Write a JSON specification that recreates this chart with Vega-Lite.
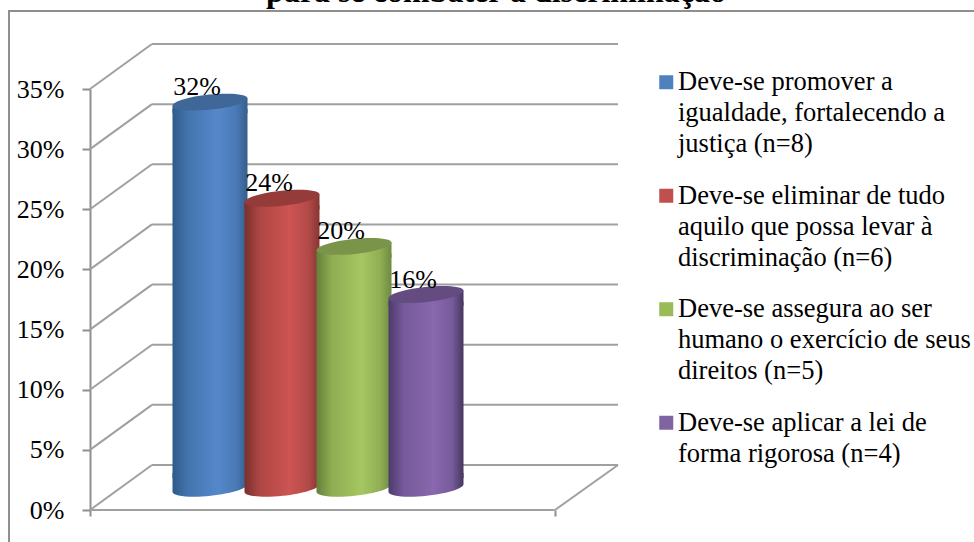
{
  "$schema": "https://vega.github.io/schema/vega-lite/v6.json",
  "width": 966,
  "height": 533,
  "autosize": {"type": "none"},
  "padding": {"left": 9, "top": 11, "right": 0, "bottom": 0},
  "background": "white",
  "view": {"stroke": "#8f8f8f", "strokeWidth": 2, "fill": "white"},
  "title": {
    "text": "para se combater a discriminação",
    "font": "Liberation Serif",
    "fontSize": 32,
    "fontWeight": "bold",
    "color": "#000000",
    "frame": "group",
    "anchor": "middle",
    "baseline": "alphabetic",
    "offset": -23,
    "dx": 4
  },
  "datasets": {
    "respostas": [
      {"categoria": "Deve-se promover a\nigualdade, fortalecendo a\njustiça (n=8)", "ordem": 1, "pct": 32},
      {"categoria": "Deve-se eliminar de tudo\naquilo que possa levar à\ndiscriminação (n=6)", "ordem": 2, "pct": 24},
      {"categoria": "Deve-se assegura ao ser\nhumano o exercício de seus\ndireitos (n=5)", "ordem": 3, "pct": 20},
      {"categoria": "Deve-se aplicar a lei de\nforma rigorosa (n=4)", "ordem": 4, "pct": 16}
    ],
    "grelha": [
      {"nivel": 0}, {"nivel": 5}, {"nivel": 10}, {"nivel": 15},
      {"nivel": 20}, {"nivel": 25}, {"nivel": 30}, {"nivel": 35}
    ]
  },
  "params": [
    {"name": "corpoAzul", "expr": "{gradient:'linear',x1:0,y1:0,x2:1,y2:0,stops:[{offset:0,color:'#2f5a89'},{offset:0.2,color:'#4474ad'},{offset:0.6,color:'#5588cb'},{offset:0.85,color:'#4a79b5'},{offset:1,color:'#355e8d'}]}"},
    {"name": "corpoVermelho", "expr": "{gradient:'linear',x1:0,y1:0,x2:1,y2:0,stops:[{offset:0,color:'#7a302e'},{offset:0.2,color:'#ae4644'},{offset:0.6,color:'#cd5452'},{offset:0.85,color:'#b34a48'},{offset:1,color:'#863634'}]}"},
    {"name": "corpoVerde", "expr": "{gradient:'linear',x1:0,y1:0,x2:1,y2:0,stops:[{offset:0,color:'#64803a'},{offset:0.2,color:'#8fac52'},{offset:0.6,color:'#a5c761'},{offset:0.85,color:'#90ae55'},{offset:1,color:'#6e8a40'}]}"},
    {"name": "corpoRoxo", "expr": "{gradient:'linear',x1:0,y1:0,x2:1,y2:0,stops:[{offset:0,color:'#4d3b6b'},{offset:0.2,color:'#75599a'},{offset:0.6,color:'#8968ae'},{offset:0.85,color:'#775b9b'},{offset:1,color:'#463660'}]}"}
  ],
  "resolve": {"scale": {"color": "independent"}, "legend": {"color": "independent"}},
  "layer": [
    {
      "description": "Parede do fundo: linhas horizontais de cada nível",
      "data": {"name": "grelha"},
      "mark": {"type": "rule", "color": "#a0a0a0", "strokeWidth": 2, "yOffset": -45},
      "encoding": {
        "x": {
          "datum": 0.194, "type": "quantitative",
          "scale": {"domain": [-1.7917, 11.625], "range": [0, 966], "nice": false, "zero": false, "padding": 0},
          "axis": {"orient": "bottom", "offset": -34, "values": [-0.667, 5.79], "labels": false, "domain": false, "grid": false, "ticks": true, "tickSize": 6, "tickColor": "#8f8f8f", "tickWidth": 2, "title": null}
        },
        "x2": {"datum": 6.667},
        "y": {
          "field": "nivel", "type": "quantitative",
          "scale": {"domain": [0, 35], "range": [499, 78], "nice": false},
          "axis": {
            "orient": "left", "offset": -81, "values": [0, 5, 10, 15, 20, 25, 30, 35], "labelExpr": "datum.value + '%'",
            "title": null, "grid": false, "labelFont": "Liberation Serif", "labelFontSize": 26, "labelColor": "#000000", "labelPadding": 18,
            "domainColor": "#8f8f8f", "domainWidth": 2, "tickColor": "#8f8f8f", "tickWidth": 2, "tickSize": 8
          }
        }
      }
    },
    {
      "description": "Parede lateral: diagonais da frente para o fundo",
      "data": {"name": "grelha"},
      "mark": {"type": "rule", "color": "#a0a0a0", "strokeWidth": 2, "y2Offset": -45},
      "encoding": {
        "x": {"datum": -0.667, "type": "quantitative"},
        "x2": {"datum": 0.194},
        "y": {"field": "nivel", "type": "quantitative"},
        "y2": {"field": "nivel"}
      }
    },
    {
      "description": "Borda da frente do piso",
      "data": {"name": "grelha"},
      "transform": [{"filter": "datum.nivel === 0"}],
      "mark": {"type": "rule", "color": "#a0a0a0", "strokeWidth": 2},
      "encoding": {
        "x": {"datum": -0.667, "type": "quantitative"},
        "x2": {"datum": 5.79},
        "y": {"field": "nivel", "type": "quantitative"}
      }
    },
    {
      "description": "Borda direita do piso",
      "data": {"name": "grelha"},
      "transform": [{"filter": "datum.nivel === 0"}],
      "mark": {"type": "rule", "color": "#a0a0a0", "strokeWidth": 2, "y2Offset": -45},
      "encoding": {
        "x": {"datum": 5.79, "type": "quantitative"},
        "x2": {"datum": 6.667},
        "y": {"field": "nivel", "type": "quantitative"},
        "y2": {"field": "nivel"}
      }
    },
    {
      "description": "Corpo dos cilindros",
      "data": {"name": "respostas"},
      "mark": {"type": "bar", "orient": "vertical", "size": 75, "yOffset": -16, "y2Offset": -32, "opacity": 1},
      "encoding": {
        "x": {"field": "ordem", "type": "quantitative"},
        "y": {"field": "pct", "type": "quantitative"},
        "y2": {"datum": 0},
        "fill": {
          "field": "categoria", "type": "nominal", "legend": null, "sort": null,
          "scale": {"range": [{"signal": "corpoAzul"}, {"signal": "corpoVermelho"}, {"signal": "corpoVerde"}, {"signal": "corpoRoxo"}]}
        }
      }
    },
    {
      "description": "Base arredondada dos cilindros",
      "data": {"name": "respostas"},
      "mark": {"type": "point", "filled": true, "opacity": 1, "size": 5625, "yOffset": -22, "shape": "M-1,0.105 A1.005,0.21,-6,0,0,1,-0.105 L1,-0.4 L-1,-0.4 Z"},
      "encoding": {
        "x": {"field": "ordem", "type": "quantitative"},
        "y": {"datum": 0, "type": "quantitative"},
        "fill": {"field": "categoria", "type": "nominal", "legend": null, "sort": null}
      }
    },
    {
      "description": "Saia sob o topo, para o corpo acompanhar a inclinação da elipse",
      "data": {"name": "respostas"},
      "mark": {"type": "point", "filled": true, "opacity": 1, "size": 5625, "yOffset": -23, "shape": "M-1,0.105 L-1,0.3 L1,0.3 L1,-0.105 Z"},
      "encoding": {
        "x": {"field": "ordem", "type": "quantitative"},
        "y": {"field": "pct", "type": "quantitative"},
        "fill": {"field": "categoria", "type": "nominal", "legend": null, "sort": null}
      }
    },
    {
      "description": "Topo elíptico dos cilindros",
      "data": {"name": "respostas"},
      "mark": {"type": "point", "filled": true, "opacity": 1, "size": 5625, "yOffset": -23, "shape": "M-1,0.105 A1.005,0.2,-6,1,1,1,-0.105 A1.005,0.2,-6,1,1,-1,0.105 Z"},
      "encoding": {
        "x": {"field": "ordem", "type": "quantitative"},
        "y": {"field": "pct", "type": "quantitative"},
        "color": {
          "field": "categoria", "type": "nominal", "sort": null,
          "scale": {"range": ["#3f6899", "#953c3a", "#7a9449", "#644c80"]},
          "legend": null
        }
      }
    },
    {
      "description": "Rótulos de valor",
      "data": {"name": "respostas"},
      "transform": [{"calculate": "datum.pct + '%'", "as": "rotulo"}],
      "mark": {"type": "text", "font": "Liberation Serif", "fontSize": 26, "color": "#000000", "baseline": "alphabetic", "align": "center", "dx": -13, "dy": -30},
      "encoding": {
        "x": {"field": "ordem", "type": "quantitative"},
        "y": {"field": "pct", "type": "quantitative"},
        "text": {"field": "rotulo", "type": "nominal"}
      }
    },
    {
      "description": "Legenda com a cor plana de cada resposta",
      "data": {"name": "respostas"},
      "mark": {"type": "point", "filled": true, "opacity": 1, "size": 0},
      "encoding": {
        "x": {"field": "ordem", "type": "quantitative"},
        "y": {"field": "pct", "type": "quantitative"},
        "color": {
          "field": "categoria", "type": "nominal", "sort": null,
          "scale": {"range": ["#4f81bd", "#c0504d", "#9bbb59", "#8064a2"]},
          "legend": {
            "orient": "none", "legendX": 644, "legendY": 58, "title": null,
            "symbolType": "square", "symbolSize": 196, "symbolStrokeWidth": 0,
            "labelFont": "Liberation Serif", "labelFontSize": 26.5, "labelColor": "#000000", "labelLimit": 400, "labelOffset": -1.5,
            "labelBaseline": "alphabetic", "rowPadding": 24.5,
            "labelExpr": "split(datum.label, '\\n')",
            "encoding": {
              "labels": {"lineHeight": {"value": 31}, "dy": {"value": 8}}
            }
          }
        }
      }
    }
  ]
}
